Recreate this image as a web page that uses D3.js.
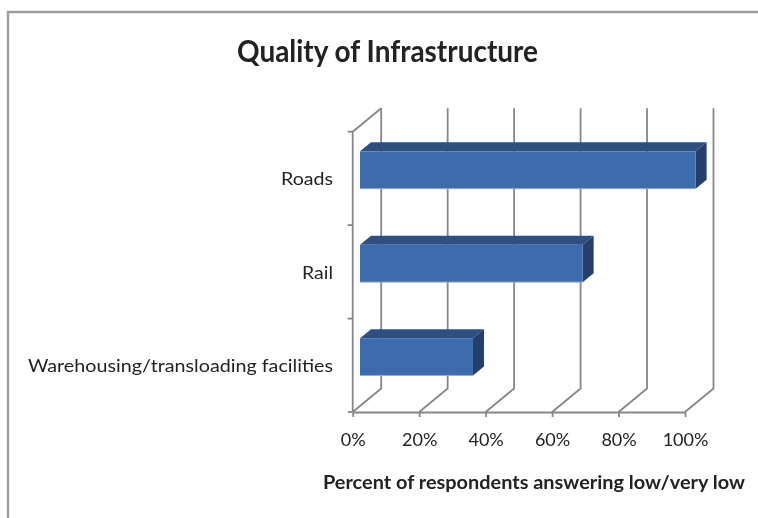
<!DOCTYPE html>
<html>
<head>
<meta charset="utf-8">
<script src="https://cdnjs.cloudflare.com/ajax/libs/d3/7.8.5/d3.min.js"></script>
<style>
	html, body { margin: 0; padding: 0; background: #fff; overflow: hidden; }
	svg { display: block; filter: blur(0.5px); }
	text { font-family: Lato, "Open Sans", sans-serif; fill: #222; }
</style>
</head>
<body>
<svg></svg>
<script>
var categories = ["Roads", "Rail", "Warehousing/transloading facilities"]
var values = [101, 67, 34]
var xTicks = [0, 20, 40, 60, 80, 100]
var titleText = "Quality of Infrastructure"
var xTitleText = "Percent of respondents answering low/very low"

var width = 758
var height = 518
var svg = d3.select("svg")
	.attr("width", width)
	.attr("height", height)

// front plane of the plot, back wall sits up and to the right of it
var plot = { left: 352.7, right: 685, top: 131.7, bottom: 412 }
var depth = { x: 28.5, y: -23.5 }
var barDepth = { x: 11, y: -9 }
var barShift = { x: 7.3, y: -8.4 }

var x = d3.scaleLinear()
	.domain([0, 100])
	.range([plot.left, plot.right])
var y = d3.scaleBand()
	.domain(categories)
	.range([plot.top, plot.bottom])
	.paddingInner(0.6)
	.paddingOuter(0.3)

// outer frame of the screenshot
svg.append("path")
	.attr("d", "M8,518V12H758")
	.attr("fill", "none")
	.attr("stroke", "#9c9c9c")
	.attr("stroke-width", 2.4)

var gridColor = "#868686"
var grid = svg.append("g")
	.attr("fill", "none")
	.attr("stroke", gridColor)
	.attr("stroke-width", 1.8)

// back wall verticals and floor diagonals
grid.selectAll("path.wall")
	.data(xTicks)
	.enter()
	.append("path")
	.attr("class", "wall")
	.attr("d", function(t) {
		var bx = x(t) + depth.x
		return "M" + x(t) + "," + plot.bottom + "L" + bx + "," + (plot.bottom + depth.y) + "V" + (plot.top + depth.y)
	})

// side wall
grid.append("path")
	.attr("d", "M" + plot.left + "," + plot.bottom + "V" + plot.top + "L" + (plot.left + depth.x) + "," + (plot.top + depth.y))

// tick marks on the category axis are at the band edges
grid.selectAll("line.cat-tick")
	.data(d3.range(categories.length + 1))
	.enter()
	.append("line")
	.attr("class", "cat-tick")
	.attr("x1", plot.left - 5)
	.attr("x2", plot.left)
	.attr("y1", function(i) { return plot.top + i * (plot.bottom - plot.top) / categories.length })
	.attr("y2", function(i) { return plot.top + i * (plot.bottom - plot.top) / categories.length })

// bottom axis
var xAxis = svg.append("g")
	.attr("transform", "translate(0," + plot.bottom + ")")
	.call(d3.axisBottom(x)
		.tickValues(xTicks)
		.tickFormat(function(d) { return d + "%" })
		.tickSize(5)
		.tickSizeOuter(0)
		.tickPadding(16))
xAxis.select(".domain")
	.attr("stroke", gridColor)
	.attr("stroke-width", 1.8)
xAxis.selectAll(".tick line")
	.attr("stroke", gridColor)
	.attr("stroke-width", 1.8)
xAxis.selectAll(".tick text")
	.style("font-family", "Lato, sans-serif")
	.style("font-size", "18px")
	.attr("fill", "#222")

// bars
var bars = svg.selectAll("g.bar")
	.data(categories)
	.enter()
	.append("g")
	.attr("class", "bar")
	.attr("transform", "translate(" + barShift.x + "," + barShift.y + ")")

function barRight(d, i) {
	return x(values[i])
}

bars.append("path")
	.attr("fill", "#2f4f7f")
	.attr("d", function(d, i) {
		var t = y(d)
		return "M" + plot.left + "," + t +
			"L" + (plot.left + barDepth.x) + "," + (t + barDepth.y) +
			"H" + (barRight(d, i) + barDepth.x) +
			"L" + barRight(d, i) + "," + t + "Z"
	})

bars.append("path")
	.attr("fill", "#253f6b")
	.attr("d", function(d, i) {
		var t = y(d)
		var r = barRight(d, i)
		return "M" + r + "," + t +
			"L" + (r + barDepth.x) + "," + (t + barDepth.y) +
			"V" + (t + barDepth.y + y.bandwidth()) +
			"L" + r + "," + (t + y.bandwidth()) + "Z"
	})

bars.append("rect")
	.attr("x", plot.left)
	.attr("y", function(d) { return y(d) })
	.attr("width", function(d, i) { return barRight(d, i) - plot.left })
	.attr("height", y.bandwidth())
	.attr("fill", "#3e6bad")

// pale edge along the bottom of each front face
bars.append("line")
	.attr("x1", plot.left)
	.attr("x2", barRight)
	.attr("y1", function(d) { return y(d) + y.bandwidth() })
	.attr("y2", function(d) { return y(d) + y.bandwidth() })
	.attr("stroke", "#8fb0dc")
	.attr("stroke-width", 1)

// category labels, widths stretched to the reference since Calibri is not available
var catWidths = [52, 31, 305]
svg.selectAll("text.cat")
	.data(categories)
	.enter()
	.append("text")
	.attr("class", "cat")
	.attr("x", 333)
	.attr("y", function(d) { return y(d) + y.bandwidth() / 2 + 7 })
	.attr("text-anchor", "end")
	.attr("font-size", 18)
	.attr("textLength", function(d, i) { return catWidths[i] })
	.attr("lengthAdjust", "spacingAndGlyphs")
	.text(function(d) { return d })

svg.append("text")
	.attr("x", 237)
	.attr("y", 62)
	.attr("font-size", 30)
	.attr("font-weight", 700)
	.attr("fill", "#111")
	.attr("textLength", 301)
	.attr("lengthAdjust", "spacingAndGlyphs")
	.text(titleText)

svg.append("text")
	.attr("x", 323)
	.attr("y", 489)
	.attr("font-size", 18.5)
	.attr("font-weight", 700)
	.attr("textLength", 422)
	.attr("lengthAdjust", "spacingAndGlyphs")
	.text(xTitleText)
</script>
</body>
</html>
